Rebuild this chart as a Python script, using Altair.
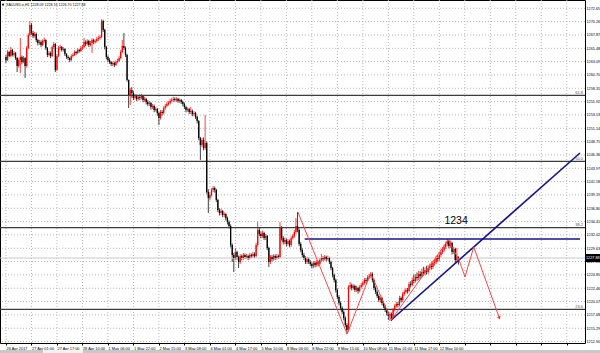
import json
import altair as alt
import pandas as pd

# ---------------- data ----------------
title_text = "XAUUSD.e,H1  1228.09 1228.16 1226.70 1227.88"

x_labels = ["26 Apr 2017", "27 Apr 01:00", "27 Apr 17:00", "28 Apr 10:00", "1 May 06:00",
            "1 May 22:00", "2 May 15:00", "3 May 08:00", "4 May 01:00", "4 May 17:00",
            "5 May 10:00", "8 May 06:00", "8 May 22:00", "9 May 15:00", "10 May 08:00",
            "11 May 01:00", "11 May 17:00", "12 May 10:00"]
bars_per_label = 16

y_ticks = [1212.90, 1215.29, 1217.68, 1220.07, 1222.46, 1224.85, 1227.24, 1229.63, 1232.02,
           1234.41, 1236.80, 1239.19, 1241.58, 1243.97, 1246.36, 1248.75, 1251.14, 1253.53,
           1255.92, 1258.31, 1260.70, 1263.09, 1265.48, 1267.87, 1270.26, 1272.65]

first_open = 1263.92
closes = [
    1263.38, 1264.82, 1264.10, 1265.18, 1264.28, 1264.64, 1263.74, 1262.31, 1263.38, 1263.92, 1263.02, 1263.74, 1262.31, 1265.53, 1267.86, 1269.66,
    1268.22, 1267.69, 1268.04, 1266.97, 1266.43, 1266.61, 1266.07, 1266.79, 1266.97, 1265.53, 1264.28, 1264.64, 1264.10, 1265.71, 1266.25, 1261.59,
    1264.10, 1265.53, 1265.71, 1265.18, 1265.35, 1264.46, 1263.92, 1263.74, 1263.38, 1264.10, 1264.28, 1264.82, 1264.64, 1265.18, 1265.00, 1265.53,
    1265.71, 1266.61, 1266.25, 1266.79, 1266.07, 1266.43, 1266.97, 1266.61, 1266.79, 1267.15, 1267.33, 1267.51, 1270.37, 1268.76, 1265.71, 1263.92,
    1263.38, 1263.02, 1262.67, 1262.84, 1262.49, 1263.02, 1263.20, 1263.74, 1264.82, 1265.89, 1265.53, 1264.28, 1259.80, 1257.11, 1258.00, 1257.47,
    1256.57, 1256.93, 1256.39, 1256.75, 1256.57, 1256.93, 1256.21, 1256.39, 1255.85, 1255.49, 1255.67, 1254.96, 1255.13, 1254.42, 1254.60, 1253.88,
    1252.98, 1254.06, 1253.88, 1254.78, 1255.13, 1255.49, 1255.67, 1256.03, 1256.21, 1256.39, 1256.21, 1256.39, 1256.03, 1256.21, 1255.85, 1255.49,
    1254.96, 1254.42, 1254.60, 1254.06, 1254.24, 1253.70, 1253.88, 1253.16, 1252.45, 1249.40, 1248.14, 1249.04, 1247.60, 1248.50, 1239.71, 1238.64,
    1239.18, 1240.07, 1240.43, 1240.07, 1238.28, 1236.49, 1235.95, 1236.31, 1235.59, 1235.77, 1235.05, 1234.34, 1233.62, 1230.21, 1228.42, 1227.88,
    1228.96, 1228.06, 1227.16, 1228.24, 1227.88, 1228.42, 1228.06, 1228.24, 1227.88, 1228.42, 1228.24, 1228.60, 1228.24, 1230.21, 1232.90, 1232.18,
    1231.83, 1232.36, 1231.47, 1231.83, 1229.67, 1227.16, 1228.06, 1227.70, 1228.24, 1227.88, 1228.24, 1228.06, 1233.26, 1231.47, 1230.75, 1231.11,
    1230.39, 1230.93, 1230.21, 1231.47, 1231.83, 1232.54, 1233.62, 1232.90, 1230.39, 1229.32, 1228.42, 1227.88, 1227.16, 1227.70, 1227.16, 1226.80,
    1226.45, 1226.98, 1226.63, 1227.16, 1226.80, 1227.52, 1227.88, 1227.70, 1228.06, 1227.70, 1227.88, 1227.16, 1226.09, 1224.83, 1223.94, 1222.14,
    1220.89, 1219.81, 1218.92, 1218.20, 1217.12, 1215.87, 1214.97, 1222.68, 1223.04, 1222.50, 1222.86, 1222.14, 1222.50, 1221.96, 1222.68, 1223.04,
    1223.40, 1223.94, 1223.76, 1224.47, 1224.65, 1225.01, 1223.94, 1222.50, 1221.78, 1221.07, 1220.35, 1220.71, 1219.81, 1219.27, 1218.56, 1218.02,
    1217.48, 1217.84, 1217.12, 1218.56, 1219.27, 1219.63, 1219.45, 1220.71, 1220.35, 1221.43, 1221.78, 1222.14, 1221.96, 1223.22, 1223.04, 1223.94,
    1223.76, 1224.47, 1224.30, 1225.01, 1224.65, 1225.37, 1225.19, 1225.73, 1225.37, 1226.09, 1226.45, 1226.27, 1226.98, 1227.16, 1227.88, 1227.70,
    1228.42, 1228.96, 1229.32, 1229.85, 1230.39, 1230.93, 1230.03, 1230.57, 1228.96, 1229.49, 1227.52, 1228.09, 1227.88,
]
highs = [
    1264.28, 1265.18, 1265.0, 1265.71, 1265.4, 1265.0, 1264.8, 1263.9, 1263.7, 1267.33, 1264.2, 1264.1, 1263.9, 1265.9, 1268.2, 1270.37,
    1270.0, 1268.6, 1268.4, 1268.3, 1267.2, 1267.0, 1266.9, 1267.1, 1267.4, 1267.1, 1265.7, 1265.0, 1264.9, 1266.0, 1266.6, 1266.4,
    1264.4, 1265.9, 1266.1, 1265.9, 1265.7, 1265.5, 1264.6, 1264.2, 1263.9, 1264.4, 1264.6, 1265.1, 1265.0, 1265.5, 1265.4, 1265.9,
    1266.1, 1267.33, 1266.9, 1267.1, 1267.0, 1266.8, 1267.3, 1267.2, 1267.1, 1267.5, 1267.7, 1267.9, 1270.7, 1270.6, 1269.0, 1265.9,
    1264.2, 1263.7, 1263.2, 1263.1, 1263.1, 1263.3, 1263.6, 1264.1, 1265.2, 1266.97, 1268.22, 1265.8, 1264.5, 1259.9, 1258.4, 1258.5,
    1257.8, 1257.3, 1257.2, 1257.1, 1257.2, 1257.3, 1257.1, 1256.8, 1256.6, 1256.2, 1256.0, 1255.9, 1255.5, 1255.4, 1255.0, 1254.8,
    1254.1, 1254.4, 1254.4, 1255.1, 1255.5, 1255.9, 1256.0, 1256.4, 1256.6, 1256.8, 1256.7, 1256.7, 1256.6, 1256.5, 1256.4, 1256.1,
    1255.7, 1255.2, 1254.9, 1254.8, 1254.96, 1254.5, 1254.2, 1254.1, 1253.4, 1252.6, 1249.6, 1249.4, 1249.5, 1253.52, 1248.8, 1240.2,
    1239.6, 1240.4, 1240.79, 1240.7, 1240.3, 1238.5, 1236.8, 1236.7, 1236.5, 1236.1, 1235.9, 1235.3, 1234.6, 1233.9, 1230.5, 1228.8,
    1229.67, 1229.2, 1228.3, 1228.6, 1228.5, 1228.8, 1228.7, 1228.6, 1228.5, 1228.8, 1228.7, 1229.0, 1228.9, 1230.6, 1234.34, 1233.3,
    1232.6, 1232.8, 1232.6, 1232.2, 1232.0, 1229.9, 1228.4, 1228.4, 1228.6, 1228.5, 1228.6, 1228.5, 1234.34, 1233.6, 1231.8, 1231.5,
    1231.4, 1231.3, 1231.2, 1231.8, 1232.2, 1232.9, 1235.05, 1236.13, 1233.2, 1230.7, 1229.6, 1228.8, 1228.2, 1228.1, 1228.0, 1227.5,
    1227.1, 1227.3, 1227.3, 1227.5, 1227.4, 1227.9, 1228.60, 1228.2, 1228.4, 1228.3, 1228.3, 1228.1, 1227.4, 1226.3, 1225.1, 1224.2,
    1222.4, 1221.2, 1220.1, 1219.2, 1218.5, 1217.4, 1216.2, 1223.0, 1223.58, 1223.3, 1223.2, 1223.1, 1222.9, 1222.7, 1223.0, 1223.4,
    1223.8, 1224.3, 1224.3, 1224.8, 1225.0, 1225.37, 1225.3, 1224.2, 1222.8, 1222.1, 1221.4, 1221.0, 1220.9, 1220.1, 1219.5, 1218.9,
    1218.3, 1218.2, 1218.1, 1218.9, 1219.6, 1220.0, 1220.0, 1221.1, 1221.0, 1221.8, 1222.2, 1222.5, 1222.5, 1223.6, 1223.7, 1224.4,
    1224.9, 1225.0, 1225.3, 1225.6, 1225.5, 1226.0, 1226.3, 1226.2, 1226.5, 1226.6, 1226.9, 1227.1, 1227.4, 1227.7, 1228.3, 1228.4,
    1228.9, 1229.4, 1229.8, 1230.3, 1230.8, 1231.29, 1231.11, 1231.0, 1230.8, 1229.9, 1229.7, 1229.67, 1228.16,
]
lows = [
    1262.84, 1263.2, 1263.9, 1263.9, 1264.0, 1264.0, 1263.4, 1261.23, 1262.0, 1261.05, 1262.6, 1262.8, 1260.16, 1262.0, 1265.3, 1267.6,
    1267.9, 1267.3, 1267.4, 1266.6, 1266.0, 1266.1, 1265.7, 1265.9, 1266.5, 1265.2, 1263.9, 1264.0, 1263.7, 1263.9, 1265.4, 1261.23,
    1261.4, 1263.9, 1265.2, 1264.9, 1264.9, 1264.1, 1263.6, 1263.4, 1263.02, 1263.2, 1263.8, 1264.1, 1264.3, 1264.4, 1264.7, 1264.8,
    1265.2, 1265.5, 1265.9, 1266.0, 1265.7, 1265.8, 1264.64, 1266.2, 1266.3, 1266.5, 1266.8, 1267.0, 1267.3, 1268.4, 1265.3, 1263.5,
    1263.0, 1262.7, 1262.3, 1262.3, 1262.1, 1262.3, 1262.8, 1263.0, 1263.5, 1264.6, 1265.2, 1263.9, 1259.5, 1254.78, 1255.31, 1256.6,
    1256.2, 1256.3, 1256.0, 1256.1, 1256.2, 1256.3, 1255.8, 1255.9, 1255.4, 1255.1, 1255.1, 1254.5, 1254.6, 1254.0, 1254.1, 1253.4,
    1251.73, 1252.7, 1253.4, 1253.6, 1254.5, 1254.9, 1255.2, 1255.4, 1255.8, 1255.9, 1255.9, 1255.9, 1255.7, 1255.7, 1255.5, 1255.1,
    1254.6, 1254.0, 1254.1, 1253.7, 1253.7, 1253.3, 1253.3, 1252.8, 1252.0, 1249.0, 1245.45, 1247.8, 1247.2, 1247.3, 1239.4, 1235.95,
    1238.2, 1238.9, 1239.7, 1239.6, 1237.9, 1236.1, 1235.5, 1235.6, 1235.2, 1235.2, 1234.6, 1233.9, 1233.2, 1229.8, 1227.16, 1225.37,
    1227.5, 1227.6, 1226.09, 1226.8, 1227.5, 1227.6, 1227.7, 1227.7, 1227.5, 1227.6, 1227.9, 1227.9, 1227.9, 1228.0, 1229.9, 1231.8,
    1231.4, 1231.5, 1231.1, 1231.1, 1229.3, 1226.27, 1226.8, 1227.3, 1227.4, 1227.5, 1227.6, 1227.7, 1227.8, 1231.0, 1230.3, 1230.4,
    1230.0, 1230.1, 1229.8, 1229.9, 1231.2, 1231.5, 1232.2, 1232.5, 1230.0, 1228.9, 1228.0, 1227.5, 1226.8, 1226.8, 1226.8, 1226.4,
    1226.0, 1226.1, 1226.2, 1226.3, 1226.4, 1226.5, 1227.2, 1227.3, 1227.4, 1227.3, 1227.4, 1226.8, 1225.7, 1224.4, 1223.5, 1221.7,
    1220.5, 1219.4, 1218.5, 1217.8, 1216.7, 1215.5, 1214.25, 1214.7, 1222.3, 1222.1, 1222.2, 1221.8, 1221.8, 1221.5, 1221.7, 1222.4,
    1222.7, 1223.1, 1223.3, 1223.5, 1224.1, 1224.3, 1223.5, 1222.1, 1221.4, 1220.7, 1220.0, 1219.9, 1219.4, 1218.9, 1218.2, 1217.6,
    1216.76, 1216.58, 1216.58, 1216.9, 1218.3, 1219.0, 1219.0, 1219.2, 1219.9, 1220.0, 1221.1, 1221.5, 1221.5, 1221.7, 1222.6, 1222.8,
    1223.3, 1223.5, 1223.8, 1223.9, 1224.1, 1224.3, 1224.7, 1224.8, 1224.9, 1225.0, 1225.7, 1225.8, 1225.9, 1226.5, 1226.8, 1227.2,
    1227.3, 1228.0, 1228.6, 1229.0, 1229.5, 1230.0, 1229.6, 1229.7, 1228.5, 1228.6, 1226.98, 1227.3, 1226.70,
]

fib_levels = [1257.05, 1245.22, 1233.31, 1218.68]
fib_names = ["61.8", "50.0", "38.2", "23.6"]

last_price = 1227.88

# drawn objects (bar index, price)
zig_i = [183.2, 214.1, 228.9, 241.8, 277.6, 284.4, 288.1, 293.6, 309.7]
zig_p = [1236.13, 1214.25, 1225.19, 1216.76, 1231.11, 1227.52, 1224.47, 1229.85, 1217.12]

blue_i1 = [187.5, 241.8]
blue_p1 = [1231.29, 1216.76]
blue_i2 = [360.3, 360.3]
blue_p2 = [1231.29, 1246.71]

note_text = "1234"
note_i = 282.5
note_p = 1234.51

# ---------------- tables ----------------
opens = [first_open] + closes[:-1]
df = pd.DataFrame({"i": list(range(len(closes))), "open": opens, "high": highs,
                   "low": lows, "close": closes})
df["dir"] = ["up" if c > o else "down" for o, c in zip(opens, closes)]

X_DOMAIN = [-0.62, 360.3]
Y_DOMAIN = [1212.64, 1274.14]
xs = alt.Scale(domain=X_DOMAIN, nice=False, zero=False)
ys = alt.Scale(domain=Y_DOMAIN, nice=False, zero=False)
col = alt.Scale(domain=["up", "down"], range=["#ff0000", "#000000"])

FONT = "Liberation Sans"
GRID = "#b8b8b8"
tick_idx = list(range(0, 361, bars_per_label))
labels_js = json.dumps(x_labels)
x_axis = alt.Axis(
    values=tick_idx,
    labelExpr=f"round(datum.value/{bars_per_label}) < {len(x_labels)} ? {labels_js}[round(datum.value/{bars_per_label})] : ''",
    labelAlign="left", labelBaseline="top", labelPadding=1, labelFontSize=3.9,
    labelFont=FONT, labelColor="#000000", labelOverlap=False, labelFlush=False,
    labelSeparation=0, tickSize=2, tickColor="#000000", domain=False,
    grid=False, title=None,
)
y_axis = alt.Axis(
    values=y_ticks, format=".2f", orient="right",
    labelFontSize=3.8, labelFont=FONT, labelColor="#000000", labelPadding=0.5,
    labelOverlap=False, labelFlush=False, labelSeparation=0,
    tickSize=0.5, tickColor="#000000", domain=False,
    grid=False, title=None,
)


def X(field):
    return alt.X(field, scale=xs, axis=x_axis)


def Y(field):
    return alt.Y(field, scale=ys, axis=y_axis)


# dotted grid drawn as rules at the tick positions
vgrid_df = pd.DataFrame({"i": tick_idx})
hgrid_df = pd.DataFrame({"p": y_ticks})
vgrid = alt.Chart(vgrid_df).mark_rule(color=GRID, strokeWidth=1, strokeDash=[1, 2]).encode(
    x=X("i:Q"))
hgrid = alt.Chart(hgrid_df).mark_rule(color=GRID, strokeWidth=1, strokeDash=[1, 2]).encode(
    y=Y("p:Q"))

wicks = alt.Chart(df).mark_rule(strokeWidth=1, opacity=0.75).encode(
    x=X("i:Q"), y=Y("low:Q"), y2="high:Q",
    color=alt.Color("dir:N", scale=col, legend=None),
)
bodies = alt.Chart(df).mark_bar(size=1.3).encode(
    x=X("i:Q"), y=Y("open:Q"), y2="close:Q",
    color=alt.Color("dir:N", scale=col, legend=None),
)

fib_df = pd.DataFrame({"level": fib_levels, "name": fib_names})
fib_lines = alt.Chart(fib_df).mark_rule(color="#3c3c3c", strokeWidth=1.2).encode(
    y=Y("level:Q"))
fib_text = alt.Chart(fib_df).mark_text(
    align="right", baseline="bottom", dy=-0.5, fontSize=4.0, font=FONT, color="#505050"
).encode(x=alt.value(583), y=Y("level:Q"), text="name:N")

price_df = pd.DataFrame({"p": [last_price]})
price_line = alt.Chart(price_df).mark_rule(color="#c8c8c8", strokeWidth=1).encode(
    y=Y("p:Q"))

seg_df = pd.DataFrame({"i1": blue_i1, "p1": blue_p1, "i2": blue_i2, "p2": blue_p2})
blue = alt.Chart(seg_df).mark_rule(color="#14148c", strokeWidth=1.6, clip=True).encode(
    x=X("i1:Q"), y=Y("p1:Q"), x2="i2:Q", y2="p2:Q")

zig_df = pd.DataFrame({"seq": list(range(len(zig_i))), "i": zig_i, "p": zig_p})
zig = alt.Chart(zig_df).mark_line(color="#ff4444", strokeWidth=1, clip=True).encode(
    x=X("i:Q"), y=Y("p:Q"), order="seq:O")
arrow = alt.Chart(zig_df.tail(1)).mark_point(
    shape="triangle-down", filled=True, size=14, angle=340, color="#ff3030", opacity=1
).encode(x=X("i:Q"), y=Y("p:Q"))

note_df = pd.DataFrame({"i": [note_i], "p": [note_p], "t": [note_text]})
note = alt.Chart(note_df).mark_text(fontSize=10.5, font=FONT, color="#000000",
                                    align="center", baseline="middle").encode(
    x=X("i:Q"), y=Y("p:Q"), text="t:N")

box_half = 0.72
box_df = pd.DataFrame({"y1": [last_price + box_half], "y2": [last_price - box_half],
                       "t": [f"{last_price:.2f}"], "p": [last_price]})
box = alt.Chart(box_df).mark_rect(color="#000000").encode(
    x=alt.value(585.5), x2=alt.value(600), y=Y("y1:Q"), y2="y2:Q")
box_text = alt.Chart(box_df).mark_text(
    align="left", baseline="middle", fontSize=3.8, font=FONT, color="#ffffff"
).encode(x=alt.value(586), y=Y("p:Q"), text="t:N")

title_df = pd.DataFrame({"t": [title_text]})
title_icon = alt.Chart(title_df).mark_point(
    shape="triangle-down", filled=True, size=7, color="#000000", opacity=1
).encode(x=alt.value(3), y=alt.value(5))
title = alt.Chart(title_df).mark_text(
    align="left", baseline="middle", fontSize=3.6, font=FONT, color="#000000"
).encode(x=alt.value(6), y=alt.value(5), text="t:N")

# window tab strip under the chart
strip = alt.Chart(title_df).mark_rect(color="#c8c8c8").encode(
    x=alt.value(0), x2=alt.value(600), y=alt.value(350), y2=alt.value(353))
tab = alt.Chart(title_df).mark_rect(color="#f2f2f2").encode(
    x=alt.value(43), x2=alt.value(83), y=alt.value(350), y2=alt.value(353))

chart = alt.layer(
    vgrid, hgrid, wicks, price_line, fib_lines, bodies, blue, zig, arrow, fib_text, note,
    box, box_text, title_icon, title, strip, tab,
).properties(
    width=585, height=343,
    autosize=alt.AutoSizeParams(type="none"),
    padding={"left": 0, "top": 0, "right": 15, "bottom": 10},
    background="#ffffff",
).configure_view(stroke="#000000", strokeWidth=1)

chart.save("out.html", embed_options={"renderer": "svg", "actions": False})
